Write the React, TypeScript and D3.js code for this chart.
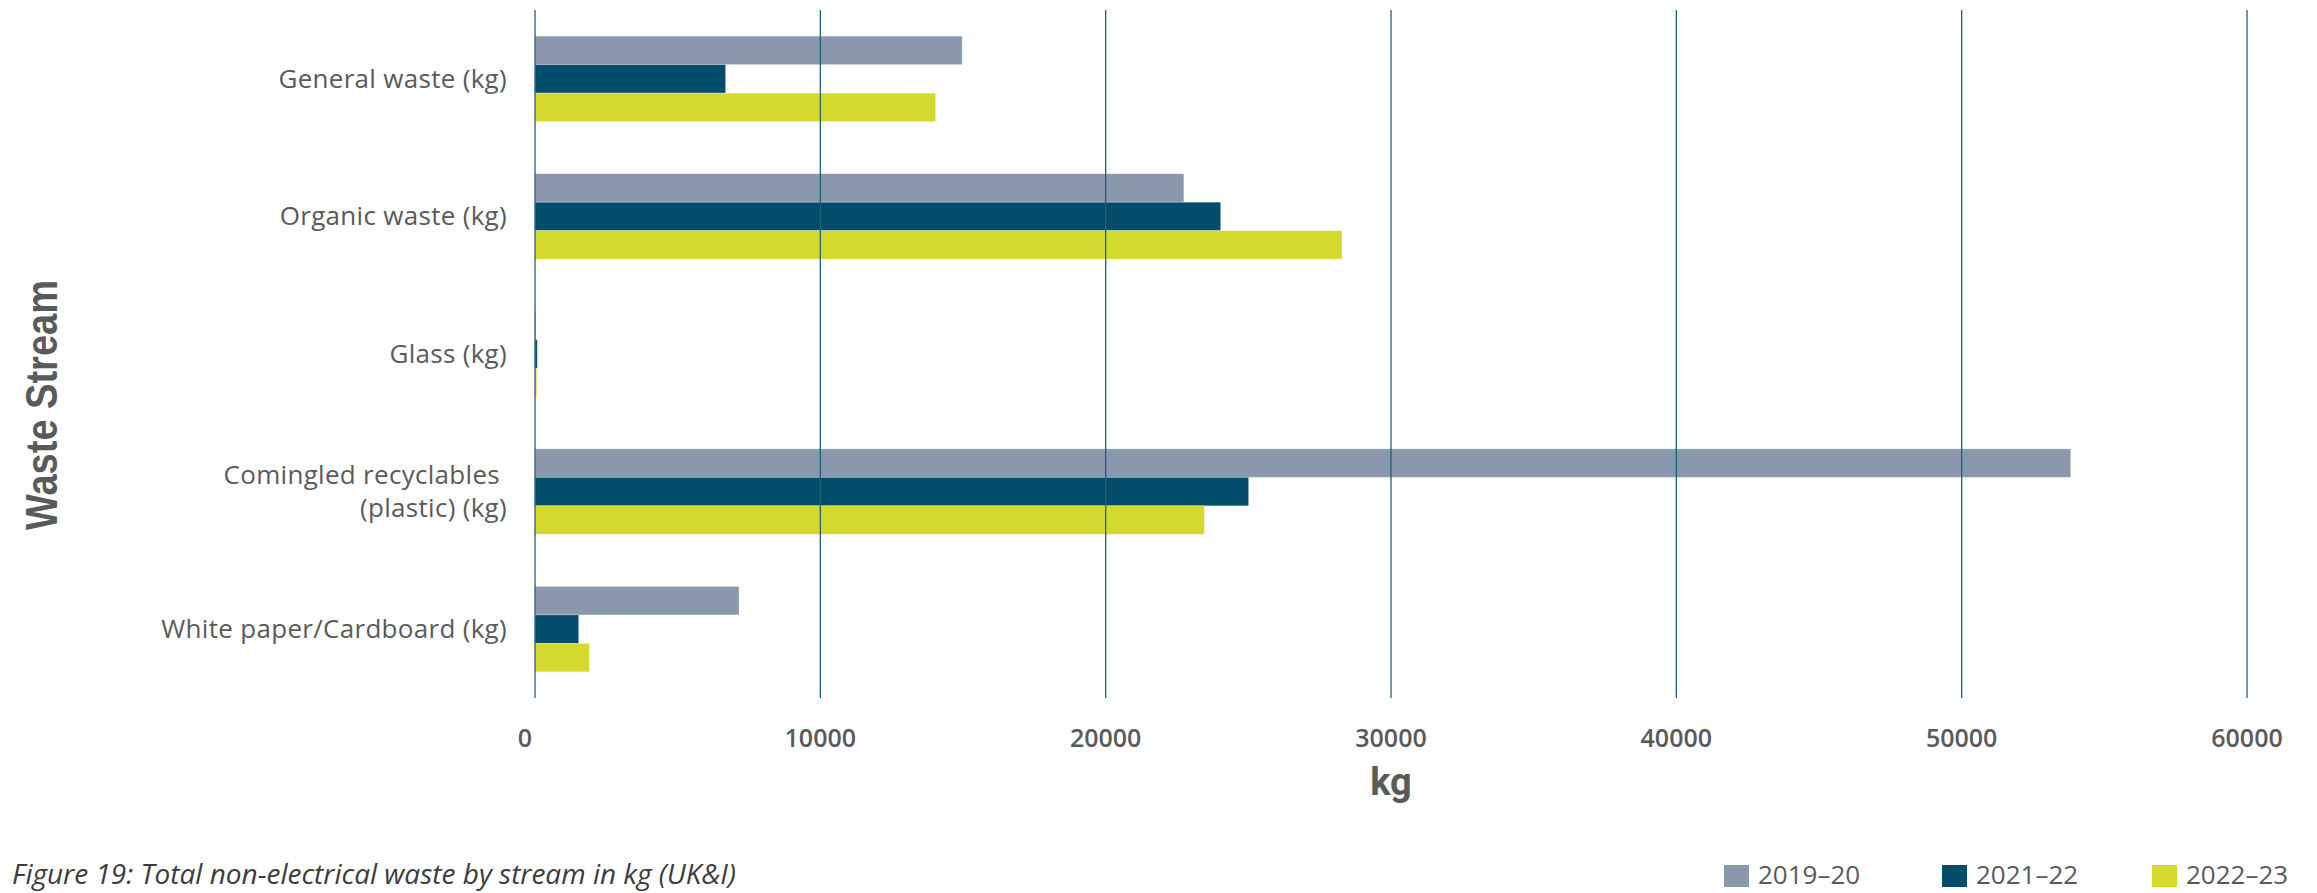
import React from "react";
import * as d3 from "d3";

const categories = [
  "General waste (kg)",
  "Organic waste (kg)",
  "Glass (kg)",
  "Comingled recyclables (plastic) (kg)",
  "White paper/Cardboard (kg)",
];
const categoryLines = [
  ["General waste (kg)"],
  ["Organic waste (kg)"],
  ["Glass (kg)"],
  ["Comingled recyclables", "(plastic) (kg)"],
  ["White paper/Cardboard (kg)"],
];
const seriesNames = ["2019–20", "2021–22", "2022–23"];
const values2019 = [14970, 22740, 30, 53820, 7150];
const values2021 = [6680, 24030, 80, 25010, 1530];
const values2022 = [14040, 28280, 60, 23460, 1910];
const seriesValues = [values2019, values2021, values2022];
const colors = ["#8a98ae", "#024d6c", "#d4da2d"];
const xTicks = [0, 10000, 20000, 30000, 40000, 50000, 60000];

const W = 2317;
const H = 893;
const textColor = "#5a5a5a";

export default function App() {
  const x = d3.scaleLinear().domain([0, 60000]).range([535, 2247]);
  const y = d3
    .scaleBand<string>()
    .domain(categories)
    .range([10, 698])
    .paddingInner(0.379)
    .paddingOuter(0.19);
  const ySub = d3
    .scaleBand<string>()
    .domain(seriesNames)
    .range([0, y.bandwidth()]);

  const legendX = [1724, 1942, 2152];

  return (
    <svg
      width={W}
      height={H}
      style={{ position: "absolute", left: 0, top: 0, background: "#fff" }}
      fontFamily="'Open Sans', sans-serif"
    >
      {/* bars */}
      {categories.map((c, ci) => (
        <g key={c} transform={`translate(0,${y(c)})`}>
          {seriesNames.map((s, si) => {
            const v = seriesValues[si][ci];
            return (
              <rect
                key={s}
                x={x(0)}
                y={ySub(s)}
                width={Math.max(0, x(v) - x(0))}
                height={ySub.bandwidth()}
                fill={colors[si]}
                stroke="#ffffff"
                strokeOpacity={0.35}
                strokeWidth={0.8}
              />
            );
          })}
        </g>
      ))}
      {/* gridlines */}
      {xTicks.map((t) => (
        <line
          key={t}
          x1={x(t)}
          x2={x(t)}
          y1={10}
          y2={698}
          stroke="#225e7b"
          strokeWidth={1.3}
        />
      ))}
      {/* category labels */}
      {categories.map((c, ci) => {
        const lines = categoryLines[ci];
        const cy = (y(c) as number) + y.bandwidth() / 2;
        if (lines.length === 1) {
          return (
            <text
              key={c}
              x={507}
              y={cy + 9}
              textAnchor="end"
              fontSize={26}
              letterSpacing={0.3}
              fill={textColor}
            >
              {lines[0]}
            </text>
          );
        }
        return (
          <text
            key={c}
            textAnchor="end"
            fontSize={26}
            letterSpacing={0.3}
            fill={textColor}
          >
            <tspan x={500} y={cy - 8}>
              {lines[0]}
            </tspan>
            <tspan x={507} y={cy + 25}>
              {lines[1]}
            </tspan>
          </text>
        );
      })}
      {/* x tick labels */}
      {xTicks.map((t) => (
        <text
          key={t}
          x={x(t) + (t === 0 ? -10 : 0)}
          y={747}
          textAnchor="middle"
          fontSize={25}
          fontWeight={600}
          fill={textColor}
        >
          {t}
        </text>
      ))}
      {/* x axis title */}
      <text
        x={(x(0) + x(60000)) / 2}
        y={795}
        textAnchor="middle"
        fontSize={38}
        fontWeight={700}
        fontFamily="Roboto, sans-serif"
        fill={textColor}
      >
        kg
      </text>
      {/* y axis title */}
      <text
        transform={`translate(57,405) rotate(-90)`}
        textAnchor="middle"
        fontSize={44}
        fontWeight={700}
        fontFamily="'Liberation Sans', Arial, sans-serif"
        fill={textColor}
        textLength={250}
        lengthAdjust="spacingAndGlyphs"
      >
        Waste Stream
      </text>
      {/* caption */}
      <text
        x={12}
        y={884}
        fontSize={28}
        fontStyle="italic"
        fill="#3c3c3c"
      >
        Figure 19: Total non-electrical waste by stream in kg (UK&amp;I)
      </text>
      {/* legend */}
      {seriesNames.map((s, si) => (
        <g key={s}>
          <rect x={legendX[si]} y={865} width={25} height={22} fill={colors[si]} />
          <text
            x={legendX[si] + 34}
            y={884}
            fontSize={26}
            fill={textColor}
          >
            {s}
          </text>
        </g>
      ))}
    </svg>
  );
}
